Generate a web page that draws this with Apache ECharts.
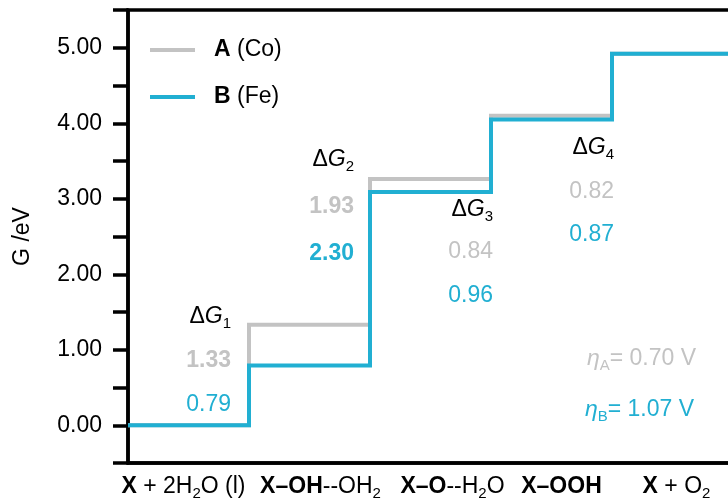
<!DOCTYPE html>
<html>
<head>
<meta charset="utf-8">
<script src="https://cdn.jsdelivr.net/npm/echarts@6/dist/echarts.min.js"></script>
<style>
  html, body { margin: 0; padding: 0; background: #fff; }
  #chart { width: 728px; height: 498px; }
</style>
</head>
<body>
<div id="chart"></div>
<script>
// states along the reaction path (rich text: b = bold, s = subscript)
const categories = ['{b|X} + 2H{s|2}O (l)', '{b|X–OH}--OH{s|2}', '{b|X–O}--H{s|2}O', '{b|X–OOH}', '{b|X} + O{s|2}']
// free energy steps ΔG1..ΔG4, eV
const stepsA = [1.33, 1.93, 0.84, 0.82]
const stepsB = [0.79, 2.30, 0.96, 0.87]
const boldA = [true, true, false, false]
const boldB = [false, true, false, false]
// overpotentials, V
const etaA = 0.70
const etaB = 1.07

const FONT = '"Liberation Sans", Arial, sans-serif'
const GRAY = '#c3c3c3'
const BLUE = '#21afd2'
const FS = 23

// cumulative energy levels
function levels (steps) {
  const out = [0]
  steps.forEach(d => out.push(+(out[out.length - 1] + d).toFixed(2)))
  return out
}
// points for a step line: each level runs one unit to the right
function stepPoints (lv) {
  const pts = lv.map((v, i) => [i, v])
  pts.push([lv.length, lv[lv.length - 1]])
  return pts
}

const levelsA = levels(stepsA)
const levelsB = levels(stepsB)

// label shifts (px) under each state, the labels are not quite centred
const labelShift = [-5, 11, 22, 10, 4]

// annotation layout (pixels): right edge of each column, and rows
const annoRight = [231, 354, 493, 614]
const rowTitle = [317, 160, 210, 148]
const rowA = [361, 207, 252, 192]
const rowB = [405, 254, 296, 235]

const subRich = {
  g: { fontStyle: 'italic', fontSize: FS, fontFamily: FONT, lineHeight: 28 },
  n: { fontSize: FS, fontFamily: FONT, lineHeight: 28 },
  s: { fontSize: 15, fontFamily: FONT, lineHeight: 15, verticalAlign: 'bottom' }
}

const graphics = []
stepsA.forEach((d, i) => {
  graphics.push({
    type: 'text',
    style: {
      text: '{n|Δ}{g|G}{s|' + (i + 1) + '}',
      rich: subRich,
      x: annoRight[i],
      y: rowTitle[i],
      align: 'right',
      verticalAlign: 'middle',
      fill: '#000',
      fontSize: FS,
      fontFamily: FONT
    }
  })
  graphics.push({
    type: 'text',
    style: {
      text: d.toFixed(2),
      x: annoRight[i],
      y: rowA[i],
      align: 'right',
      verticalAlign: 'middle',
      fill: GRAY,
      fontSize: FS,
      fontWeight: boldA[i] ? 'bold' : 'normal',
      fontFamily: FONT
    }
  })
  graphics.push({
    type: 'text',
    style: {
      text: stepsB[i].toFixed(2),
      x: annoRight[i],
      y: rowB[i],
      align: 'right',
      verticalAlign: 'middle',
      fill: BLUE,
      fontSize: FS,
      fontWeight: boldB[i] ? 'bold' : 'normal',
      fontFamily: FONT
    }
  })
})

const etaRich = {
  e: { fontStyle: 'italic', fontSize: FS, fontFamily: FONT, lineHeight: 28 },
  n: { fontSize: FS, fontFamily: FONT, lineHeight: 28 },
  s: { fontSize: 15, fontFamily: FONT, lineHeight: 15, verticalAlign: 'bottom' }
}
graphics.push({
  type: 'text',
  style: {
    text: '{e|η}{s|A}{n|= ' + etaA.toFixed(2) + ' V}',
    rich: etaRich,
    x: 696, y: 359, align: 'right', verticalAlign: 'middle',
    fill: GRAY, fontSize: FS, fontFamily: FONT
  }
})
graphics.push({
  type: 'text',
  style: {
    text: '{e|η}{s|B}{n|= ' + etaB.toFixed(2) + ' V}',
    rich: etaRich,
    x: 694, y: 410, align: 'right', verticalAlign: 'middle',
    fill: BLUE, fontSize: FS, fontFamily: FONT
  }
})

const axisLine = { color: '#000', width: 3.5 }

const chart = echarts.init(document.getElementById('chart'))
const option = {
  animation: false,
  textStyle: { fontFamily: FONT },
  grid: {
    left: 128,
    right: -5,
    top: 10,
    bottom: 35,
    outerBoundsMode: 'none',
    containLabel: false,
    show: true,
    borderColor: '#000',
    borderWidth: 3.5
  },
  legend: {
    orient: 'vertical',
    left: 150,
    top: 37,
    padding: 0,
    icon: 'rect',
    itemWidth: 45,
    itemHeight: 4,
    itemGap: 21,
    formatter: name => name.replace(/^(\w)/, '{b|$1}'),
    textStyle: {
      color: '#000',
      fontSize: FS,
      fontFamily: FONT,
      lineHeight: 26,
      padding: [0, 0, 0, 14],
      rich: {
        b: { fontWeight: 'bold', fontSize: FS, fontFamily: FONT, color: '#000' }
      }
    }
  },
  xAxis: [
    {
      type: 'value',
      min: 0,
      max: 5,
      position: 'bottom',
      axisLine: { show: true, onZero: false, lineStyle: axisLine },
      axisTick: { show: false },
      axisLabel: { show: false },
      splitLine: { show: false }
    },
    {
      type: 'category',
      data: categories.map((c, i) => ({
        value: c,
        textStyle: {
          padding: labelShift[i] >= 0 ? [0, 0, 0, 2 * labelShift[i]] : [0, -2 * labelShift[i], 0, 0]
        }
      })),
      position: 'bottom',
      boundaryGap: true,
      axisLine: { show: false },
      axisTick: { show: false },
      splitLine: { show: false },
      axisLabel: {
        interval: 0,
        hideOverlap: false,
        margin: 10,
        color: '#000',
        fontSize: FS,
        fontFamily: FONT,
        lineHeight: 28,
        rich: {
          b: { fontWeight: 'bold', fontSize: FS, fontFamily: FONT, color: '#000', lineHeight: 28 },
          s: { fontSize: 15, fontFamily: FONT, color: '#000', lineHeight: 15, verticalAlign: 'bottom' }
        }
      }
    }
  ],
  yAxis: {
    type: 'value',
    min: -0.5,
    max: 5.5,
    interval: 0.5,
    name: 'G /eV',
    nameLocation: 'middle',
    nameGap: 94,
    nameTextStyle: { color: '#000', fontSize: FS, fontFamily: FONT },
    axisLine: { show: true, lineStyle: axisLine },
    axisTick: { show: true, length: 15, lineStyle: axisLine },
    axisLabel: {
      margin: 26,
      color: '#000',
      fontSize: FS,
      fontFamily: FONT,
      formatter: v => (Math.abs(v - Math.round(v)) < 1e-6 && v >= 0 && v <= 5) ? v.toFixed(2) : ''
    },
    splitLine: { show: false }
  },
  graphic: graphics,
  series: [
    {
      name: 'A (Co)',
      type: 'line',
      xAxisIndex: 0,
      step: 'end',
      data: stepPoints(levelsA),
      symbol: 'none',
      color: GRAY,
      lineStyle: { color: GRAY, width: 4, join: 'miter' },
      z: 2
    },
    {
      name: 'B (Fe)',
      type: 'line',
      xAxisIndex: 0,
      step: 'end',
      data: stepPoints(levelsB),
      symbol: 'none',
      color: BLUE,
      lineStyle: { color: BLUE, width: 4, join: 'miter' },
      z: 3
    }
  ]
}
chart.setOption(option)
</script>
</body>
</html>
